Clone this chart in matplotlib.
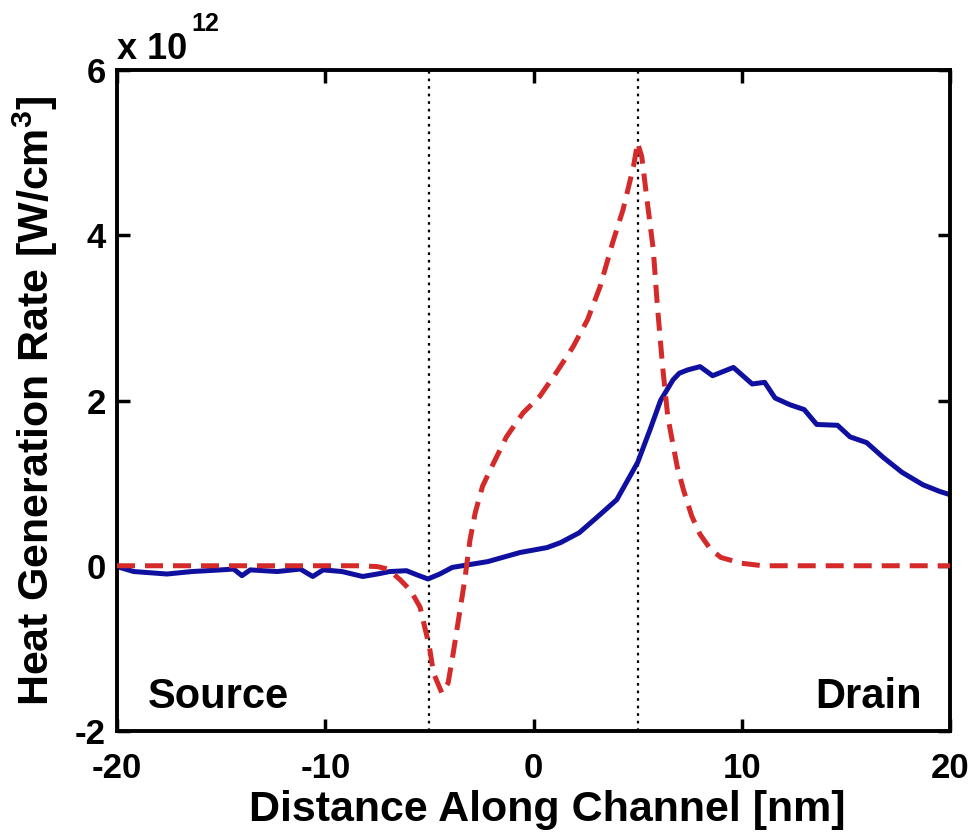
import matplotlib
matplotlib.use("Agg")
import matplotlib.pyplot as plt

# ---- data (values in units of 1e12 W/cm^3) ----
red_x = [-20, -12, -8.5, -7.5, -7.0, -6.4, -5.9, -5.45, -5.0, -4.8, -4.4, -4.1, -3.85, -3.55, -3.3,
         -3.05, -2.8, -2.45, -2.0, -1.3, -0.5, 0.3, 1.1, 1.9, 2.6, 3.2, 3.8, 4.3, 4.8, 5.0,
         5.2, 5.45, 5.75, 5.95, 6.2, 6.45, 6.9, 7.2, 7.6, 8.0, 8.5, 9.0, 10, 11, 20]
red_y = [0, 0, 0, -0.01, -0.04, -0.17, -0.3, -0.5, -0.98, -1.3, -1.54, -1.42, -1.05, -0.57, -0.17,
         0.31, 0.64, 0.96, 1.2, 1.56, 1.85, 2.05, 2.34, 2.65, 2.98, 3.38, 3.91, 4.31, 4.83, 5.12,
         4.95, 4.43, 3.83, 3.14, 2.41, 1.8, 1.2, 0.92, 0.6, 0.38, 0.2, 0.1, 0.03, 0.0, 0]

blue_x = [-20, -19.2, -17.6, -16.4, -15.0, -14.4, -14.0, -13.6, -12.3, -11.2,
          -10.6, -10.1, -9.2, -8.2, -7.5, -6.9, -6.1, -5.6, -5.07, -4.5,
          -3.9, -2.2, -0.65, 0.65, 1.3, 2.2, 3.2, 4.0, 5.0, 5.6,
          6.1, 6.7, 7.0, 7.4, 8.0, 8.6, 9.6, 10.5, 11.1, 11.6,
          12.3, 13.0, 13.6, 14.6, 15.2, 16.0, 16.8, 17.7, 18.7, 19.5, 20]
blue_y = [-0.01, -0.07, -0.1, -0.07, -0.05, -0.04, -0.12, -0.05, -0.07, -0.04,
          -0.13, -0.05, -0.07, -0.13, -0.1, -0.07, -0.06, -0.11, -0.16, -0.1,
          -0.02, 0.05, 0.16, 0.22, 0.28, 0.4, 0.62, 0.8, 1.25, 1.65,
          2.0, 2.25, 2.33, 2.37, 2.41, 2.3, 2.4, 2.2, 2.22, 2.03,
          1.95, 1.89, 1.71, 1.70, 1.56, 1.49, 1.31, 1.13, 0.98, 0.9, 0.86]

vlines_x = [-5, 5]
x_ticks = [-20, -10, 0, 10, 20]
y_ticks = [-2, 0, 2, 4, 6]
region_labels = ["Source", "Drain"]

plt.rcParams['font.family'] = ['Liberation Sans', 'DejaVu Sans']
plt.rcParams['font.weight'] = 'bold'
plt.rcParams['mathtext.fontset'] = 'custom'
plt.rcParams['mathtext.rm'] = 'Liberation Sans:bold'
plt.rcParams['mathtext.bf'] = 'Liberation Sans:bold'
plt.rcParams['mathtext.default'] = 'rm'

fig = plt.figure(figsize=(9.76, 8.36), dpi=100)
ax = fig.add_axes([117/976, 1 - 731/836, 833/976, 661/836])

for xv in vlines_x:
    ax.axvline(xv, color='black', linestyle=(0, (1.2, 2.2)), linewidth=1.6, zorder=1)

ax.plot(blue_x, blue_y, color='#1010a0', linewidth=3.6, solid_joinstyle='round', zorder=2)
ax.plot(red_x, red_y, color='#d42a2a', linewidth=3.6, dashes=(3.6, 2.0), zorder=3)

ax.set_xlim(-20, 20)
ax.set_ylim(-2, 6)
ax.set_xticks(x_ticks)
ax.set_yticks(y_ticks)
ax.set_xticklabels([str(t) for t in x_ticks])
ax.set_yticklabels([str(t) for t in y_ticks])
ax.tick_params(direction='in', length=9, width=2.5, labelsize=25,
               top=True, right=True)
ax.tick_params(axis='x', pad=15)
ax.tick_params(axis='y', pad=8)
for s in ax.spines.values():
    s.set_linewidth(2.8)

ax.set_xlabel('Distance Along Channel [nm]', fontsize=31, fontweight='bold')
ax.xaxis.set_label_coords(0.517, -0.09)
ax.set_ylabel(r'Heat Generation Rate [W/cm$^{3}$]', fontsize=31, fontweight='bold')
ax.yaxis.set_label_coords(-0.068, 0.5)

ax.text(-18.5, -1.72, region_labels[0], fontsize=30, fontweight='bold', ha='left', va='baseline')
ax.text(18.66, -1.72, region_labels[1], fontsize=30, fontweight='bold', ha='right', va='baseline')

fig.text(117/976, 1 - 59/836, 'x 10', fontsize=26, fontweight='bold', ha='left', va='baseline')
fig.text(191/976, 1 - 31/836, '12', fontsize=18, fontweight='bold', ha='left', va='baseline')

fig.savefig('out.png', dpi=100)
